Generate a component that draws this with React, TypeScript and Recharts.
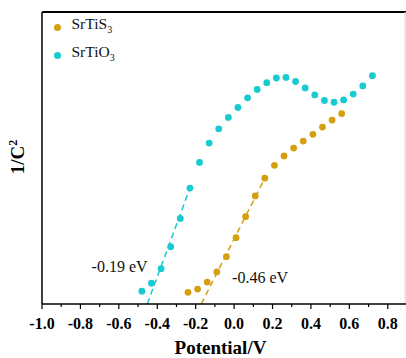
import React from 'react';
import { ComposedChart, XAxis, YAxis, Line, Scatter, ReferenceLine, ReferenceDot, Label } from 'recharts';

const serif = '"Liberation Serif", "Times New Roman", serif';
const gold = '#D4A012';
const cyan = '#17CBD0';

// SrTiO3 points (potential V, 1/C^2 a.u.)
const oxideX = [-0.48, -0.43, -0.38, -0.33, -0.28, -0.23, -0.18, -0.13, -0.08, -0.03, 0.02, 0.07, 0.12, 0.17, 0.22, 0.27, 0.32, 0.37, 0.42, 0.47, 0.52, 0.57, 0.62, 0.67, 0.72];
const oxideY = [0.44, 0.71, 1.21, 1.96, 2.93, 3.97, 4.85, 5.51, 6.0, 6.39, 6.73, 7.06, 7.35, 7.58, 7.74, 7.76, 7.62, 7.4, 7.16, 6.97, 6.91, 6.99, 7.19, 7.47, 7.82];

// SrTiS3 points
const sulfideX = [-0.24, -0.19, -0.14, -0.09, -0.04, 0.01, 0.06, 0.11, 0.16, 0.21, 0.26, 0.31, 0.36, 0.41, 0.46, 0.51, 0.56];
const sulfideY = [0.4, 0.51, 0.75, 1.1, 1.62, 2.27, 2.99, 3.7, 4.31, 4.75, 5.07, 5.34, 5.58, 5.81, 6.06, 6.3, 6.52];

// linear fits (dashed)
const oxideFit = [{ x: -0.452, y: 0 }, { x: -0.23, y: 3.97 }];
const sulfideFit = [{ x: -0.171, y: 0 }, { x: 0.16, y: 4.31 }];

// major ticks get labels, minor ticks in between
const allTicks = [-1.0, -0.9, -0.8, -0.7, -0.6, -0.5, -0.4, -0.3, -0.2, -0.1, 0.0, 0.1, 0.2, 0.3, 0.4, 0.5, 0.6, 0.7, 0.8, 0.9];

const oxideData = oxideX.map((x, i) => ({ x, y: oxideY[i] }));
const sulfideData = sulfideX.map((x, i) => ({ x, y: sulfideY[i] }));

const dot = (color: string) => (props: any) => (
  <circle cx={props.cx} cy={props.cy} r={3.4} fill={color} />
);

const XTick = (props: any) => {
  const { x, y, payload } = props;
  const v = Math.round(payload.value * 10);
  const major = v % 2 === 0;
  if (v >= 9) return null;
  return (
    <g>
      <line x1={x} x2={x} y1={y} y2={y + (major ? 5 : 3)} stroke="#000" strokeWidth={1.2} />
      {major && (
        <text x={x} y={y + 25} textAnchor="middle" fill="#000" fontSize={16} fontWeight="bold" fontFamily={serif}>
          {(v / 10).toFixed(1)}
        </text>
      )}
    </g>
  );
};

const App: React.FC = () => {
  return (
    <div style={{ position: 'absolute', left: 0, top: 0, width: 406, height: 358, overflow: 'hidden', background: '#fff' }}>
      <ComposedChart width={410} height={358} margin={{ top: 12, right: 3, left: 41, bottom: 0 }}>
        <XAxis
          type="number"
          dataKey="x"
          domain={[-1.0, 0.9]}
          ticks={allTicks}
          interval={0}
          tick={<XTick />}
          tickSize={0}
          tickMargin={0}
          tickLine={false}
          axisLine={{ stroke: '#000', strokeWidth: 1.5 }}
          height={54}
          allowDataOverflow
        >
          <Label value="Potential/V" position="insideBottom" offset={4} dx={-4} fill="#000" fontSize={19} fontWeight="bold" fontFamily={serif} />
        </XAxis>
        <YAxis
          type="number"
          domain={[0, 10]}
          width={1}
          tick={false}
          tickLine={false}
          axisLine={{ stroke: '#000', strokeWidth: 1.5 }}
          allowDataOverflow
        >
          <Label
            content={() => (
              <text x={24} y={157} transform="rotate(-90 24 157)" textAnchor="middle" fill="#000" fontSize={19} fontWeight="bold" fontFamily={serif}>
                1/C<tspan fontSize={12} dy={-7}>2</tspan>
              </text>
            )}
          />
        </YAxis>
        <ReferenceLine y={10} stroke="#000" strokeWidth={2} />
        <ReferenceLine x={0.89} stroke="#d4d4d4" strokeWidth={1} />
        <Line data={oxideFit} dataKey="y" stroke={cyan} strokeWidth={1.5} strokeDasharray="6 4" dot={false} activeDot={false} isAnimationActive={false} />
        <Line data={sulfideFit} dataKey="y" stroke={gold} strokeWidth={1.5} strokeDasharray="6 4" dot={false} activeDot={false} isAnimationActive={false} />
        <Scatter data={oxideData} dataKey="y" name="SrTiO3" fill={cyan} shape={dot(cyan)} isAnimationActive={false} />
        <Scatter data={sulfideData} dataKey="y" name="SrTiS3" fill={gold} shape={dot(gold)} isAnimationActive={false} />
        <ReferenceDot x={-0.596} y={1.28} r={0} fill="none" stroke="none" label={{ value: '-0.19 eV', position: 'center', fill: '#111', fontSize: 16, fontFamily: serif }} />
        <ReferenceDot x={0.135} y={0.91} r={0} fill="none" stroke="none" label={{ value: '-0.46 eV', position: 'center', fill: '#111', fontSize: 16, fontFamily: serif }} />
      </ComposedChart>
      <div style={{ position: 'absolute', left: 50, top: 13, fontFamily: serif, fontSize: 15.5, color: '#111', lineHeight: '22px' }}>
        <div style={{ display: 'flex', alignItems: 'center' }}>
          <span style={{ width: 7, height: 7, borderRadius: '50%', background: gold, display: 'inline-block', marginLeft: 3.5, marginRight: 11 }} />
          <span>SrTiS<sub style={{ fontSize: 10 }}>3</sub></span>
        </div>
        <div style={{ display: 'flex', alignItems: 'center' }}>
          <span style={{ width: 7, height: 7, borderRadius: '50%', background: cyan, display: 'inline-block', marginLeft: 3.5, marginRight: 11 }} />
          <span>SrTiO<sub style={{ fontSize: 10 }}>3</sub></span>
        </div>
      </div>
    </div>
  );
};

export default App;
